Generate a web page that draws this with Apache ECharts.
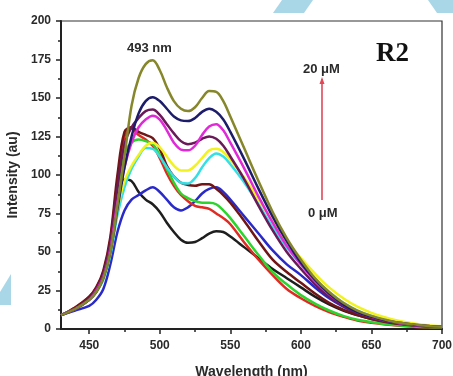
<!DOCTYPE html>
<html>
<head>
<meta charset="utf-8">
<script src="https://cdn.jsdelivr.net/npm/echarts@6/dist/echarts.min.js"></script>
<style>
html,body{margin:0;padding:0;background:#fff;}
#chart{width:453px;height:376px;}
</style>
</head>
<body>
<div id="chart"></div>
<script>
// Wavelengths (nm)
const wavelengths = [430,440,450,455,460,465,470,475,480,485,490,495,500,505,510,515,520,525,530,535,540,545,550,560,570,580,590,600,610,620,630,640,650,660,670,680,690,700];

// Intensity (au) per series
const olive   = [9,13,19,24,33,50,80,112,145,163,172,174.5,168,157,148,143,141.5,144,150,154.5,154,148,138,117,96,76,59,45,33,24,17,12,8.5,6,4,3,2,1.5];
const navy    = [9,13,19,24,33,50,78,105,125,140,148,150.5,148,143,138,135.5,135,137,141,143,141,136,128,110,91,73,57,43,32,23,16,11,8,5.5,4,2.8,2,1.4];
const plum    = [9,13,20,26,36,56,92,120,131,137,141.5,142.5,139,133,127,122,120,121,123.5,125,123.5,119,112,97,80,64,50,39,29,21,15,10.5,7.5,5,3.5,2.5,1.8,1.3];
const magenta = [9,13,19,25,34,52,82,105,121,131,136,138.5,136,129,121,116.5,116,119,126,131.5,133,129,121,104,86,69,54,42,31,22.5,16,11,8,5.5,3.8,2.6,1.9,1.4];
const yellow  = [9,13,19,24,33,50,78,96,106,113,119,121,118,112,106,103,103,106,111,116,117,115,110,98,84,70,57,46,36,27,20,14.5,10.5,7.5,5.2,3.6,2.5,1.8];
const cyan    = [9,13,19,24,32,48,74,92,104,112,117.5,117,112,105,99,95,94.5,98,105,111,114,112,107,95,81,66,53,42,32,24,17,12,8.5,6,4,2.8,2,1.4];
const maroon  = [9,14,21,27,38,60,100,128,131,128,126,124,117,106,99,95,93.5,93,94,94,91,87,82,70,57,45,37,30,23,17,12.5,9,6.5,4.5,3.2,2.3,1.7,1.3];
const green   = [9,13,20,26,36,56,90,114,121,123,122,120,113,104,95,88,85,83,82,82,81,77,72,60,48,37,29,22,16.5,12,8.5,6,4.5,3.2,2.3,1.7,1.3,1];
const red     = [9,14,21,27,37,58,96,125,130,126,123,119,111,101,93,87,83,80,79,78,75,72,68,56,45,35,26,20,15,11,8,5.5,4,2.9,2.1,1.5,1.1,0.8];
const blue    = [9,12,15,19,26,42,63,77,84,87,90,92,89,84,79,77,79,83,88,91,92,89,84,73,62,51,42,35,27,20,14.5,10,7,5,3.5,2.5,1.8,1.3];
const black   = [9,13,20,26,35,52,80,97,96,89,84,81,76,69,63,58,56,56.5,59,62,63.5,63,60,53,46,39,33,27,21,16,12,9,6.5,4.6,3.3,2.4,1.7,1.2];

// Axis ticks
const xTicks = [450,500,550,600,650,700];
const xMinorTicks = [475,525,575,625,675];
const yMin = 0, yMax = 200, yStep = 25;

const seriesDefs = [
  {name:'black', data:black, color:'#1e1e1e'},
  {name:'blue', data:blue, color:'#2a2ac8'},
  {name:'red', data:red, color:'#e02a24'},
  {name:'green', data:green, color:'#2ed42e'},
  {name:'maroon', data:maroon, color:'#701616'},
  {name:'cyan', data:cyan, color:'#34e0e6'},
  {name:'yellow', data:yellow, color:'#f2f21e'},
  {name:'plum', data:plum, color:'#6a1a58'},
  {name:'magenta', data:magenta, color:'#e02ad8'},
  {name:'navy', data:navy, color:'#1c1c6a'},
  {name:'olive', data:olive, color:'#86862a'}
];

const chart = echarts.init(document.getElementById('chart'), null, {renderer:'canvas'});
const tickFont = {fontFamily:'Liberation Sans, Arial, sans-serif', fontWeight:'bold', fontSize:12, color:'#2a2a2a'};

chart.setOption({
  animation:false,
  backgroundColor:'#ffffff',
  grid:{left:61, right:11, top:21, bottom:47, containLabel:false, outerBoundsMode:'none', show:true, borderColor:'#333', borderWidth:1.2},
  xAxis:[{
    type:'value', min:430, max:700, position:'bottom',
    name:'Wavelength (nm)', nameLocation:'middle', nameGap:36,
    nameTextStyle:{fontFamily:'Liberation Sans, Arial, sans-serif', fontWeight:'bold', fontSize:14, color:'#2a2a2a'},
    axisLine:{lineStyle:{color:'#222', width:2}},
    axisTick:{show:true, length:5, lineStyle:{color:'#222', width:1.5}, customValues:xTicks},
    axisLabel:Object.assign({margin:11, customValues:xTicks}, tickFont),
    splitLine:{show:false}
  },{
    type:'value', min:430, max:700, position:'bottom',
    axisLine:{show:false},
    axisTick:{show:true, length:3, lineStyle:{color:'#222', width:1.5}, customValues:xMinorTicks},
    axisLabel:{show:false},
    splitLine:{show:false}
  }],
  yAxis:{
    type:'value', min:yMin, max:yMax, interval:yStep,
    name:'Intensity (au)', nameLocation:'middle', nameGap:34,
    nameTextStyle:{fontFamily:'Liberation Sans, Arial, sans-serif', fontWeight:'bold', fontSize:14, color:'#2a2a2a'},
    axisLine:{show:true, lineStyle:{color:'#222', width:2}},
    axisTick:{show:true, length:5, lineStyle:{color:'#222', width:1.5}},
    minorTick:{show:true, splitNumber:2, length:3, lineStyle:{color:'#222', width:1.5}},
    axisLabel:Object.assign({margin:10}, tickFont),
    splitLine:{show:false}
  },
  series: seriesDefs.map(s => ({
    name:s.name, type:'line', xAxisIndex:0, showSymbol:false, smooth:0.35,
    lineStyle:{color:s.color, width:2.5}, itemStyle:{color:s.color},
    data: wavelengths.map((w,i)=>[w, s.data[i]])
  })),
  graphic:[
    {type:'polygon', z:-10, shape:{points:[[273,13],[282,0],[313,0],[304,13]]}, style:{fill:'#a9d7e7'}},
    {type:'polygon', z:-10, shape:{points:[[428,0],[453,0],[453,13],[437,13]]}, style:{fill:'#a9d7e7'}},
    {type:'polygon', z:-10, shape:{points:[[0,292],[11,274],[11,305],[0,305]]}, style:{fill:'#a9d7e7'}},
    {type:'text', left:127, top:42, style:{text:'493 nm', font:'bold 13px "Liberation Sans", Arial, sans-serif', fill:'#2a2a2a'}},
    {type:'text', left:376, top:41, style:{text:'R2', font:'bold 27px "Liberation Serif", "Times New Roman", serif', fill:'#111'}},
    {type:'text', left:303, top:63, style:{text:'20 μM', font:'bold 13px "Liberation Sans", Arial, sans-serif', fill:'#2a2a2a'}},
    {type:'text', left:308, top:207, style:{text:'0 μM', font:'bold 13px "Liberation Sans", Arial, sans-serif', fill:'#2a2a2a'}},
    {type:'line', shape:{x1:322, y1:200, x2:322, y2:79}, style:{stroke:'#e04858', lineWidth:1.6}},
    {type:'polygon', shape:{points:[[319.5,84],[322,77],[324.5,84]]}, style:{fill:'#e04858'}}
  ]
});
</script>
</body>
</html>
